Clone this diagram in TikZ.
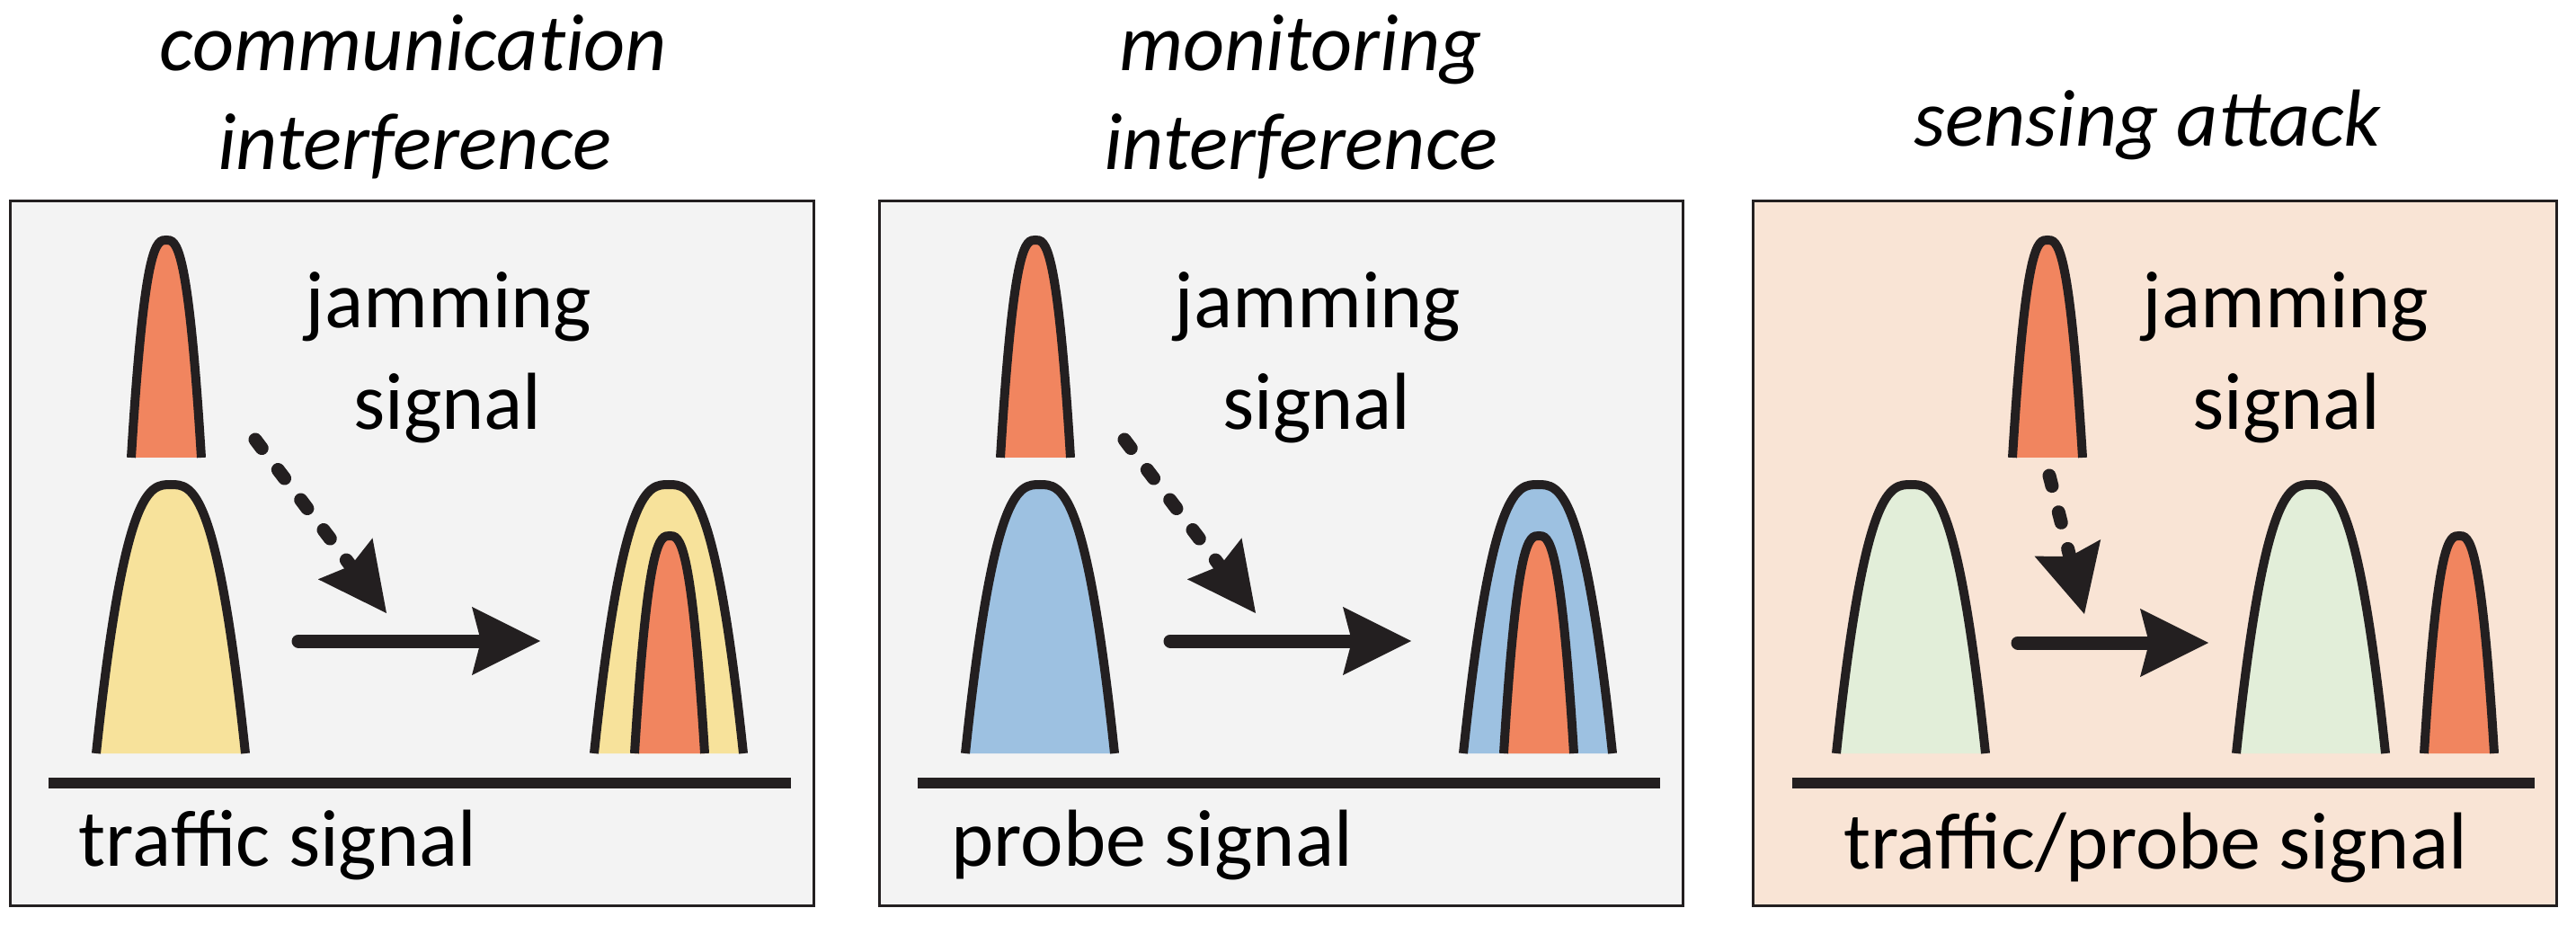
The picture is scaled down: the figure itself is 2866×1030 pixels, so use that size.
\documentclass[tikz,border=0pt]{standalone}
\usepackage{fontspec}
\setmainfont{Carlito}
\usetikzlibrary{arrows.meta}

\definecolor{jamorange}{HTML}{F1855F}
\definecolor{trafficyellow}{HTML}{F7E29B}
\definecolor{probeblue}{HTML}{9DC1E1}
\definecolor{mixgreen}{HTML}{E2EED9}
\definecolor{panelgray}{HTML}{F3F3F3}
\definecolor{attackpeach}{HTML}{F9E4D5}
\definecolor{inkline}{HTML}{231F20}

\tikzset{
  panel/.style={draw=inkline, line width=0.3mm},
  baseaxis/.style={draw=inkline, line width=1.2mm},
  peakline/.style={draw=inkline, line width=1mm},
  txt/.style={inner sep=0pt, anchor=base, font=\fontsize{25.6pt}{31pt}\selectfont},
  heading/.style={txt, font=\fontsize{25.6pt}{31pt}\selectfont\itshape},
  shiftarrow/.style={draw=inkline, line width=1.5mm, line cap=round,
    -{Stealth[length=7.6mm, width=7.6mm, inset=1mm, line width=0pt]}},
  jamarrow/.style={shiftarrow, dash pattern=on 1.2mm off 3mm},
  pics/bigpeak/.style={code={
    \fill[#1] (-83,0) .. controls (-51.5,-299) and (-23.2,-299) .. (0,-299)
      .. controls (23.2,-299) and (51.5,-299) .. (83,0) -- cycle;
    \draw[peakline] (-83,0) .. controls (-51.5,-299) and (-23.2,-299) .. (0,-299)
      .. controls (23.2,-299) and (51.5,-299) .. (83,0);
  }},
  pics/smallpeak/.style={code={
    \fill[#1] (-39,0) .. controls (-24.2,-242) and (-10.9,-242) .. (0,-242)
      .. controls (10.9,-242) and (24.2,-242) .. (39,0) -- cycle;
    \draw[peakline] (-39,0) .. controls (-24.2,-242) and (-10.9,-242) .. (0,-242)
      .. controls (10.9,-242) and (24.2,-242) .. (39,0);
  }}
}

\begin{document}
\begin{tikzpicture}[x=0.1mm, y=-0.1mm]
\useasboundingbox (0,0) rectangle (2866,1030);

% communication interference
\draw[panel, fill=panelgray] (11,224) rectangle (905,1007);
\node[heading] (h1a) at (460,79) {communicat\kern0pt ion};
\node[heading] (h1b) at (461,189) {interference};
\pic at (185,509) {smallpeak=jamorange};
\pic at (190,838) {bigpeak=trafficyellow};
\pic at (744,838) {bigpeak=trafficyellow};
\pic at (745,838) {smallpeak=jamorange};
\draw[baseaxis] (54,871) -- (880,871);
\node[txt] (j1a) at (499,365) {jamming};
\node[txt] (j1b) at (498,478) {signal};
\node[txt, anchor=base west] (s1) at (87,963) {traffic signal};
\coordinate (d1s) at (284,489);
\coordinate (d1e) at (430,682);
\coordinate (a1s) at (332,713);
\coordinate (a1e) at (601,713);
\draw[jamarrow] (d1s) -- (d1e);
\draw[shiftarrow] (a1s) -- (a1e);

% monitoring interference
\draw[panel, fill=panelgray] (978,224) rectangle (1872,1007);
\node[heading] (h2a) at (1447,79) {monitoring};
\node[heading] (h2b) at (1447,189) {interference};
\pic at (1152,509) {smallpeak=jamorange};
\pic at (1157,838) {bigpeak=probeblue};
\pic at (1711,838) {bigpeak=probeblue};
\pic at (1712,838) {smallpeak=jamorange};
\draw[baseaxis] (1021,871) -- (1847,871);
\node[txt] (j2a) at (1466,365) {jamming};
\node[txt] (j2b) at (1465,478) {signal};
\node[txt, anchor=base west] (s2) at (1058,963) {probe signal};
\coordinate (d2s) at (1251,489);
\coordinate (d2e) at (1397,682);
\coordinate (a2s) at (1302,713);
\coordinate (a2e) at (1570,713);
\draw[jamarrow] (d2s) -- (d2e);
\draw[shiftarrow] (a2s) -- (a2e);

% sensing attack
\draw[panel, fill=attackpeach] (1950,224) rectangle (2844,1007);
\node[heading] (h3) at (2389,163) {sensing attack};
\pic at (2278,509) {smallpeak=jamorange};
\pic at (2126,838) {bigpeak=mixgreen};
\pic at (2571,838) {bigpeak=mixgreen};
\pic at (2736,838) {smallpeak=jamorange};
\draw[baseaxis] (1994,871) -- (2820,871);
\node[txt] (j3a) at (2543,365) {jamming};
\node[txt] (j3b) at (2544,478) {signal};
\node[txt] (s3) at (2398,966) {traffic/probe signal};
\coordinate (d3s) at (2280,529);
\coordinate (d3e) at (2319,683);
\coordinate (a3s) at (2245,715);
\coordinate (a3e) at (2457,715);
\draw[jamarrow] (d3s) -- (d3e);
\draw[shiftarrow] (a3s) -- (a3e);
\end{tikzpicture}
\end{document}
